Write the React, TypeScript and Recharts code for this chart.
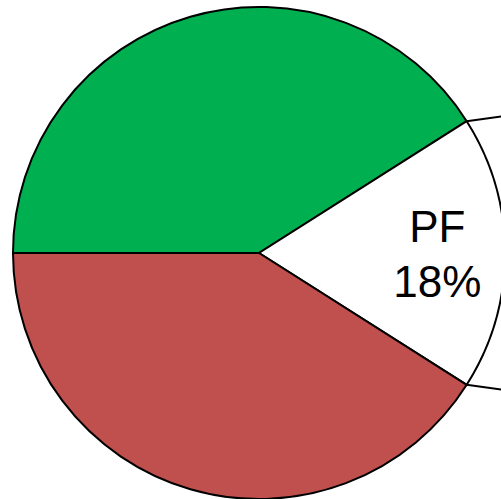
import React from "react";
import { PieChart, Pie, Cell } from "recharts";

const names = ["Green", "PF", "Red"];
const values = [41, 18, 41];
const colors = ["#00B050", "#FFFFFF", "#C0504D"];

const data = names.map((name, i) => ({ name, value: values[i] }));

const RAD = Math.PI / 180;

function renderLabel(props: any) {
  const { cx, cy, midAngle, outerRadius, startAngle, endAngle, percent, name } = props;
  if (name !== "PF") return null;
  const r = outerRadius * 0.725;
  const x = cx + r * Math.cos(-midAngle * RAD);
  const y = cy + r * Math.sin(-midAngle * RAD);
  // connector lines toward the secondary pie (off to the right)
  const p1 = {
    x: cx + outerRadius * Math.cos(-startAngle * RAD),
    y: cy + outerRadius * Math.sin(-startAngle * RAD),
  };
  const p2 = {
    x: cx + outerRadius * Math.cos(-endAngle * RAD),
    y: cy + outerRadius * Math.sin(-endAngle * RAD),
  };
  const top = p1.y < p2.y ? p1 : p2;
  const bottom = p1.y < p2.y ? p2 : p1;
  const len = 300;
  return (
    <g>
      <line x1={top.x} y1={top.y} x2={top.x + len} y2={top.y - len * 0.14} stroke="#000" strokeWidth={2} />
      <line x1={bottom.x} y1={bottom.y} x2={bottom.x + len} y2={bottom.y + len * 0.14} stroke="#000" strokeWidth={2} />
      <text
        x={x}
        y={y}
        textAnchor="middle"
        fill="#000"
        fontSize={44}
        fontFamily="'Liberation Sans', Arial, sans-serif"
      >
        <tspan x={x} dy={-11}>{name}</tspan>
        <tspan x={x} dy={55}>{`${Math.round(percent * 100)}%`}</tspan>
      </text>
    </g>
  );
}

export default function App() {
  return (
    <div style={{ position: "fixed", left: 0, top: 0, width: 501, height: 499, background: "#fff" }}>
      <PieChart width={501} height={499} margin={{ top: 0, right: 0, bottom: 0, left: 0 }}>
        <Pie
          data={data}
          dataKey="value"
          nameKey="name"
          cx={259}
          cy={253}
          outerRadius={246}
          startAngle={180}
          endAngle={-180}
          stroke="#000"
          strokeWidth={2}
          label={renderLabel}
          labelLine={false}
          isAnimationActive={false}
        >
          {data.map((d, i) => (
            <Cell key={d.name} fill={colors[i]} />
          ))}
        </Pie>
      </PieChart>
    </div>
  );
}
